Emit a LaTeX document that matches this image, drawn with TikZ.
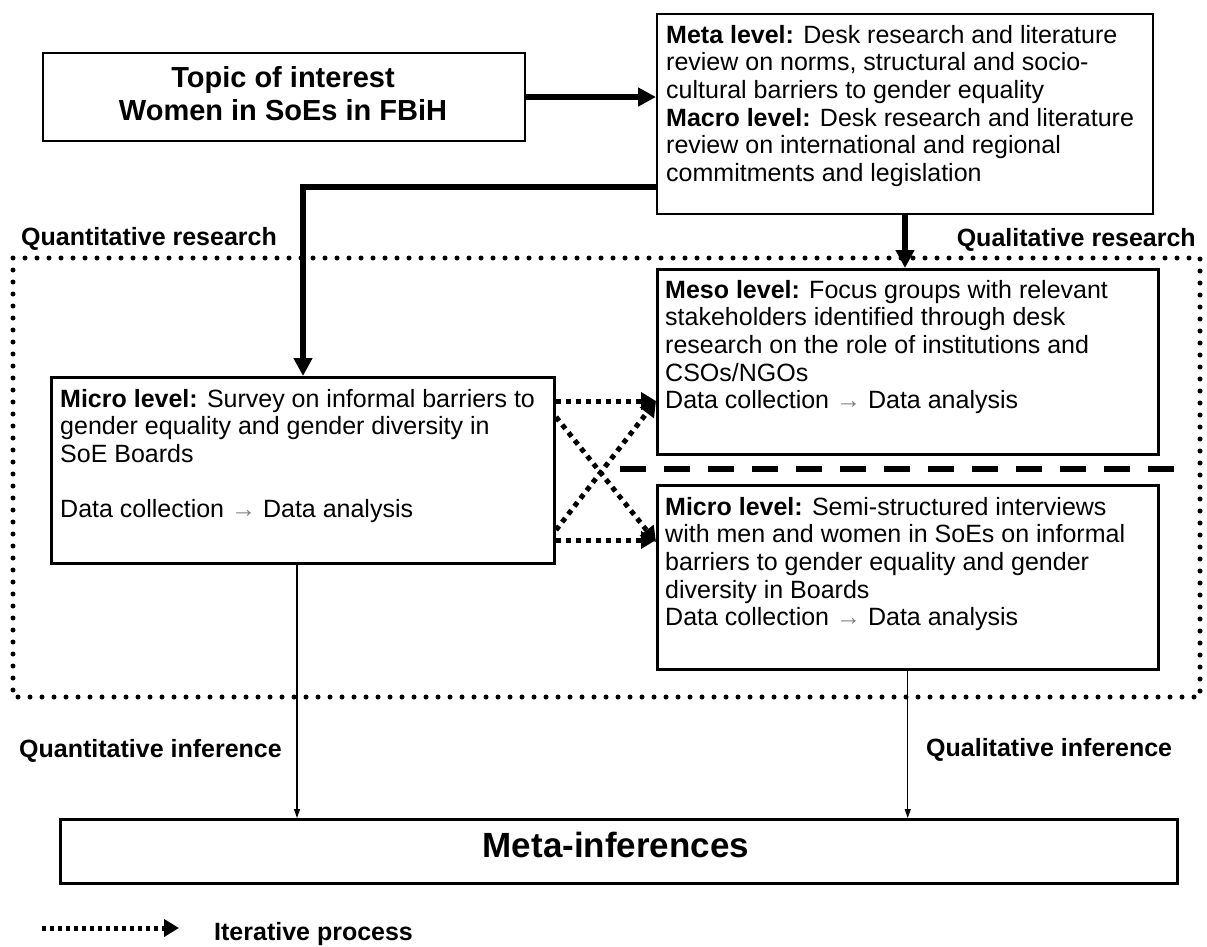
\documentclass[tikz,border=0pt]{standalone}
\usepackage{fontspec}
\setmainfont{Liberation Sans}
\usetikzlibrary{calc,arrows.meta}
\tikzset{
  box/.style={draw, line width=2pt, inner sep=0pt, anchor=north west},
  body/.style={font=\fontsize{25}{27.6}\selectfont, align=left, inner sep=0pt, anchor=north west},
  lbl/.style={font=\bfseries\fontsize{25}{30}\selectfont, inner sep=0pt},
  thickarr/.style={line width=5.5pt, -{Triangle[length=18pt,width=18pt]}},
  thinarr/.style={line width=1.2pt, -{Triangle[length=9pt,width=6pt]}},
  iter/.style={line width=5pt, dash pattern=on 5pt off 5pt, -{Triangle[length=15pt,width=17pt]}},
  framestyle/.style={line width=5pt, line cap=round, dash pattern=on 0pt off 12pt},
  sepline/.style={line width=6pt, dash pattern=on 26pt off 18pt},
}
\newcommand{\arr}{{\color{gray}→}}
\begin{document}
\begin{tikzpicture}[x=1pt,y=-1pt]
\useasboundingbox (0,0) rectangle (1207,947);
% dotted frame
\draw[framestyle] (13,258) rectangle (1200,697);
% boxes
\node[box, minimum width=482pt, minimum height=88pt] (topic) at (42,52) {};
\node[font=\bfseries\fontsize{29}{33}\selectfont, align=center, inner sep=0pt, anchor=north] (topictext) at (283,66) {Topic of interest\\Women in SoEs in FBiH};
\node[box, minimum width=496pt, minimum height=200pt] (meta) at (656,13) {};
\node[body] (metatext) at (666,25) {\textbf{Meta level:} Desk research and literature\\review on norms, structural and socio-\\cultural barriers to gender equality\\\textbf{Macro level:} Desk research and literature\\review on international and regional\\commitments and legislation};
\node[box, line width=2.5pt, minimum width=501pt, minimum height=185pt] (meso) at (656,268) {};
\node[body] (mesotext) at (665,280) {\textbf{Meso level:} Focus groups with relevant\\stakeholders identified through desk\\research on the role of institutions and\\CSOs/NGOs\\Data collection \arr{} Data analysis};
\node[box, line width=2.5pt, minimum width=501pt, minimum height=184pt] (microR) at (656,484) {};
\node[body] (microRtext) at (665,497) {\textbf{Micro level:} Semi-structured interviews\\with men and women in SoEs on informal\\barriers to gender equality and gender\\diversity in Boards\\Data collection \arr{} Data analysis};
\node[box, line width=3pt, minimum width=503pt, minimum height=186pt] (microL) at (50,376) {};
\node[body] (microLtext) at (60,389) {\textbf{Micro level:} Survey on informal barriers to\\gender equality and gender diversity in\\SoE Boards\\[27.6pt]Data collection \arr{} Data analysis};
\node[box, line width=2.5pt, minimum width=1117pt, minimum height=64pt] (metainf) at (59,818) {};
\node[font=\bfseries\fontsize{35}{40}\selectfont, inner sep=0pt, anchor=base] (metainftext) at (616,857) {Meta-inferences};
% labels
\node[lbl, anchor=base west] (quantres) at (21,245) {Quantitative research};
\node[lbl, anchor=base east] (qualres) at (1196,246) {Qualitative research};
\node[lbl, anchor=base west] (quantinf) at (19,757) {Quantitative inference};
\node[lbl, anchor=base west] (qualinf) at (926,756) {Qualitative inference};
\node[lbl, anchor=base west] (iterlbl) at (214,940) {Iterative process};
% thick connectors
\draw[thickarr] (topic.east) -- (topic.east -| meta.west);
\draw[thickarr] ($(meta.south west)+(0,-28)$) -| (microL.north);
\draw[thickarr] (meta.south) -- (meta.south |- meso.north);
% separator
\coordinate (sepA) at (620,469);
\coordinate (sepB) at (1177,469);
\draw[sepline] (sepA) -- (sepB);
% iterative arrows
\coordinate (i1s) at ($(microL.north east)+(0,25)$);
\coordinate (i2s) at ($(microL.south east)+(0,-25)$);
\coordinate (i3s) at ($(microL.north east)+(0,41)$);
\coordinate (i3e) at ($(microR.north west)+(0,58)$);
\coordinate (i4s) at ($(microL.south east)+(0,-35)$);
\coordinate (i4e) at ($(meso.north west)+(0,133)$);
\draw[iter] (i1s) -- (i1s -| meso.west);
\draw[iter] (i2s) -- (i2s -| microR.west);
\draw[iter] (i3s) -- (i3e);
\draw[iter] (i4s) -- (i4e);
% thin connectors
\coordinate (qL) at ([xshift=-6pt]microL.south);
\draw[thinarr] (qL) -- (qL |- metainf.north);
\draw[thinarr] (microR.south) -- (microR.south |- metainf.north);
% legend
\coordinate (lgA) at (42,928);
\coordinate (lgB) at (179,928);
\draw[iter, dash pattern=on 4pt off 4pt] (lgA) -- (lgB);
\end{tikzpicture}
\end{document}
